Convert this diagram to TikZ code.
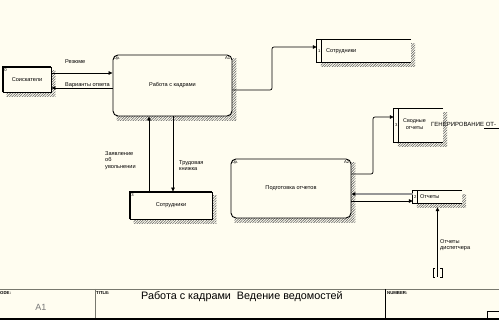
\documentclass[tikz,border=0pt]{standalone}
\usepackage{fontspec}
\setmainfont{Liberation Sans}
\usetikzlibrary{arrows.meta,positioning,calc,patterns.meta}
\definecolor{idefPaper}{RGB}{255,253,240}
\definecolor{idefHatch}{RGB}{95,95,95}
\definecolor{idefFrame}{RGB}{120,120,110}
\definecolor{idefGray}{RGB}{150,150,150}
\pgfdeclarelayer{back}
\pgfsetlayers{back,main}

\begin{document}
\begin{tikzpicture}[
  x=1pt,y=-1pt,
  func/.style={
    draw,
    line width=0.9pt,
    rounded corners=5pt,
    fill=idefPaper,
    inner sep=1pt,
    align=center,
    font=\fontsize{5.6}{6.6}\selectfont
  },
  extbox/.style={draw,line width=0.8pt,fill=idefPaper,inner sep=1pt,align=center,font=\fontsize{5.6}{6.6}\selectfont},
  store/.style={fill=idefPaper,inner sep=0pt},
  tag/.style={inner sep=0pt,font=\fontsize{4.2}{4.2}\selectfont},
  lbl/.style={inner sep=0pt,align=left,font=\fontsize{5.6}{6.8}\selectfont},
  flow/.style={-{Triangle[length=4pt,width=3.6pt]},line width=0.7pt},
  hatch/.style={pattern={Lines[angle=45,distance=1.8pt,line width=0.55pt]},pattern color=idefHatch},
  heavy/.style={line width=1.8pt}
]
  \useasboundingbox (0,0) rectangle (499,320);

  % boxes
  \node[extbox,minimum width=48pt,minimum height=25pt] (applicants) at (27,79.5) {Соискатели};
  \node[func,minimum width=119pt,minimum height=61pt] (a1) at (172.5,85.5) {Работа с кадрами};
  \node[store,minimum width=94pt,minimum height=22pt] (staffstore) at (364,51) {};
  \node[extbox,minimum width=82pt,minimum height=27pt] (employees) at (171,205.5) {Сотрудники};
  \node[func,minimum width=120pt,minimum height=59pt] (a2) at (291,188.5) {Подготовка отчетов};
  \node[store,minimum width=49pt,minimum height=33pt] (summary) at (418.5,125.5) {};
  \node[store,minimum width=49pt,minimum height=12pt] (reports) at (437.5,197) {};

  \begin{pgfonlayer}{back}
    \fill[idefPaper] (0,0) rectangle (499,320);
    \foreach \n in {applicants,a1,staffstore,employees,a2,summary,reports}
      \fill[hatch] ($(\n.north west)+(4,4)$) rectangle ($(\n.south east)+(4,4)$);
  \end{pgfonlayer}

  % external entities
  \draw[heavy] (applicants.south west) |- (applicants.north east);
  \draw[heavy] (employees.south west) |- (employees.north east);
  \node[tag,anchor=north west] at ([shift={(1.5pt,-1.5pt)}]applicants.north west) {0};
  \node[tag,anchor=north west] at ([shift={(1.5pt,-1.5pt)}]employees.north west) {3};

  % function labels
  \node[tag,anchor=north west] at ([shift={(1.5pt,-2pt)}]a1.north west) {0р.};
  \node[tag,anchor=north east] at ([shift={(-2pt,-2pt)}]a1.north east) {A1};
  \node[tag,anchor=north west] at ([shift={(1.5pt,-2pt)}]a2.north west) {0р.};
  \node[tag,anchor=north east] at ([shift={(-2pt,-2pt)}]a2.north east) {A2};

  % data stores
  \foreach \n/\k in {staffstore/1,summary/3,reports/2}{
    \draw[line width=0.7pt] (\n.north east) -- (\n.north west) -- (\n.south west) -- (\n.south east);
    \draw[line width=0.7pt] ([xshift=5pt]\n.north west) -- ([xshift=5pt]\n.south west);
    \node[tag] at ([xshift=2.5pt]\n.west) {\k};
  }
  \node[lbl,anchor=west] (staffname) at ([xshift=9pt]staffstore.west) {Сотрудники};
  \node[lbl,align=center,font=\fontsize{5.4}{7}\selectfont] (summaryname) at (414.5,124.5) {Сводные\\отчеты};
  \node[lbl,anchor=west] (reportsname) at ([xshift=7pt]reports.west) {Отчеты};
  \node[lbl,anchor=west,font=\fontsize{6}{7}\selectfont] (gen) at (431,124) {ГЕНЕРИРОВАНИЕ ОТ-};
  \draw[line width=0.6pt] (484,128) -- (499,128);

  % arrows
  \draw[flow] (applicants.east |- 0,73) -- (a1.west |- 0,73);
  \draw[flow] (a1.west |- 0,88) -- (applicants.east |- 0,88);
  \draw[flow,rounded corners=2pt] (a1.east |- 0,90) -- (272,90) -- (272,47) -- (staffstore.west |- 0,47);
  \draw[flow] (employees.north -| 149,0) -- (a1.south -| 149,0);
  \draw[flow] (a1.south -| 173,0) -- (employees.north -| 173,0);
  \draw[flow,rounded corners=2pt] (a2.east |- 0,174) -- (373,174) -- (373,117) -- (summary.west |- 0,117);
  \draw[-{Triangle[length=4pt,width=3.6pt,color=black]},line width=1.3pt,idefGray] (reports.west |- 0,194) -- (a2.east |- 0,194);
  \draw[flow] (a2.east |- 0,201) -- (reports.west |- 0,201);
  \coordinate (tunnel) at (437.5,277);
  \draw[flow] (tunnel) -- ([yshift=-4pt]reports.south);
  \draw[line width=0.6pt] ([xshift=-2.5pt]tunnel) -- ++(-2,0) -- ++(0,-9) -- ++(2,0);
  \draw[line width=0.6pt] ([xshift=2.5pt]tunnel) -- ++(2,0) -- ++(0,-9) -- ++(-2,0);

  % arrow labels
  \node[lbl,anchor=west] (resume) at (65,62) {Резюме};
  \node[lbl,anchor=west] (answers) at (65,85) {Варианты ответа};
  \node[lbl,anchor=north west] (resign) at (105,151) {Заявление\\об\\увольнении};
  \node[lbl,anchor=north west] (workbook) at (179,160) {Трудовая\\книжка};
  \node[lbl,anchor=north west] (dispatch) at (440,239) {Отчеты\\диспетчера};

  % footer
  \draw[idefFrame,line width=0.8pt] (0,289) -- (499,289);
  \draw[idefFrame,line width=0.8pt] (95,289) -- (95,319);
  \draw[line width=0.8pt] (385,289) -- (385,319);
  \draw[line width=1.2pt] (0,319) -- (499,319);
  \draw[line width=0.6pt] (499,311) -- (487,311) -- (487,319);
  \node[tag,anchor=north west,font=\bfseries\fontsize{4.3}{4.3}\selectfont] (codehead) at (0,291) {ODE:};
  \node[tag,font=\fontsize{9}{9}\selectfont,text=idefGray!80!black] (code) at (41,307) {A1};
  \node[tag,anchor=north west,font=\bfseries\fontsize{4.3}{4.3}\selectfont] (titlehead) at (96,291) {TITLE:};
  \node[tag,anchor=west,font=\fontsize{10.8}{11}\selectfont] (title) at (141,297) {Работа с кадрами\ \ Ведение ведомостей};
  \node[tag,anchor=north west,font=\bfseries\fontsize{4.3}{4.3}\selectfont] (numhead) at (387,291) {NUMBER:};
\end{tikzpicture}
\end{document}
